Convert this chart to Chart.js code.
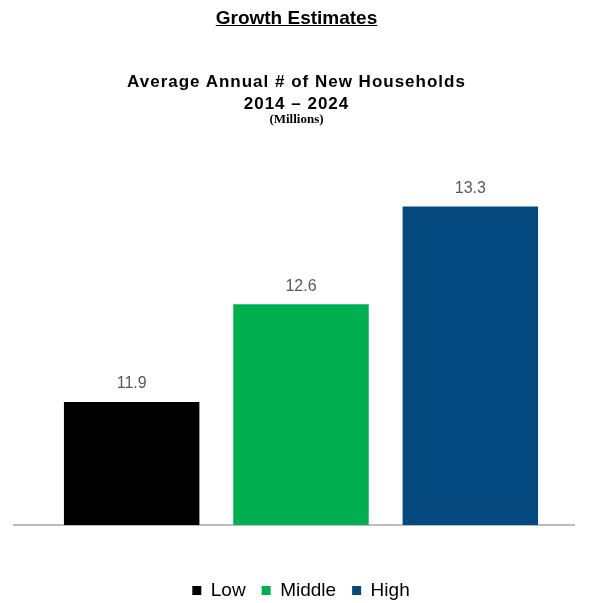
<!DOCTYPE html>
<html>
<head>
<meta charset="utf-8">
<script src="https://cdn.jsdelivr.net/npm/chart.js@4"></script>
<style>
  html, body { margin: 0; padding: 0; background: #fff; overflow: hidden; }
  #wrap { position: relative; width: 589px; height: 603px; }
  .hd { position: absolute; left: 2px; width: 589px; text-align: center; color: #000; font-family: "Liberation Sans", Arial, sans-serif; font-weight: bold; }
  #h1 { top: 8px; font-size: 19px; line-height: 19px; text-decoration: underline; }
  #h2 { top: 71px; font-size: 17px; line-height: 22px; letter-spacing: 1px; }
  #h3 { top: 112px; font-size: 13px; line-height: 13px; font-family: "Liberation Serif", "Times New Roman", serif; }
  canvas { position: absolute; left: 0; top: 0; }
</style>
</head>
<body>
<div id="wrap">
  <canvas id="chart" width="589" height="610"></canvas>
  <div class="hd" id="h1">Growth Estimates</div>
  <div class="hd" id="h2">Average Annual # of New Households<br>2014 – 2024</div>
  <div class="hd" id="h3">(Millions)</div>
</div>
<script>
// values
const categories = ['Low', 'Middle', 'High'];
const households = [11.9, 12.6, 13.3];
const barColors = ['#000000', '#00B050', '#03497F'];

// value labels above the bars
const valueLabels = {
    id: 'valueLabels',
    afterDatasetsDraw: (chart) => {
        const { ctx } = chart;
        const meta = chart.getDatasetMeta(0);
        ctx.save();
        ctx.font = '16px "Liberation Sans", Arial, sans-serif';
        ctx.fillStyle = '#595959';
        ctx.textAlign = 'center';
        ctx.textBaseline = 'middle';
        meta.data.forEach((bar, i) => {
            ctx.fillText(households[i].toFixed(1), bar.x, bar.y - 18);
        });
        ctx.restore();
    }
};

// grey baseline, runs wider than the bars
const baseline = {
    id: 'baseline',
    beforeDatasetsDraw: (chart) => {
        const { ctx, chartArea } = chart;
        ctx.save();
        ctx.strokeStyle = '#A6A6A6';
        ctx.lineWidth = 1.5;
        ctx.beginPath();
        ctx.moveTo(13, chartArea.bottom);
        ctx.lineTo(575, chartArea.bottom);
        ctx.stroke();
        ctx.restore();
    }
};

new Chart(document.getElementById('chart'), {
    type: 'bar',
    data: {
        labels: categories,
        datasets: [{
            label: 'Households',
            data: households,
            backgroundColor: barColors,
            borderWidth: 0,
            categoryPercentage: 1,
            barPercentage: 0.8
        }]
    },
    options: {
        responsive: false,
        animation: false,
        layout: { padding: { top: 160, left: 47, right: 34, bottom: 0 } },
        scales: {
            x: {
                ticks: { display: false },
                grid: { display: false },
                border: { display: false },
                afterFit: (scale) => { scale.height = 40; }
            },
            y: {
                display: false,
                min: 11.02,
                max: 13.633
            }
        },
        plugins: {
            tooltip: { enabled: false },
            legend: {
                position: 'bottom',
                onClick: null,
                labels: {
                    color: '#000',
                    font: { family: '"Liberation Sans", Arial, sans-serif', size: 19 },
                    boxWidth: 9,
                    boxHeight: 9,
                    padding: 16,
                    generateLabels: () => categories.map((c, i) => ({
                        text: c,
                        fillStyle: barColors[i],
                        strokeStyle: barColors[i],
                        lineWidth: 0,
                        hidden: false,
                        index: i
                    }))
                }
            }
        }
    },
    plugins: [valueLabels, baseline]
});
</script>
</body>
</html>
